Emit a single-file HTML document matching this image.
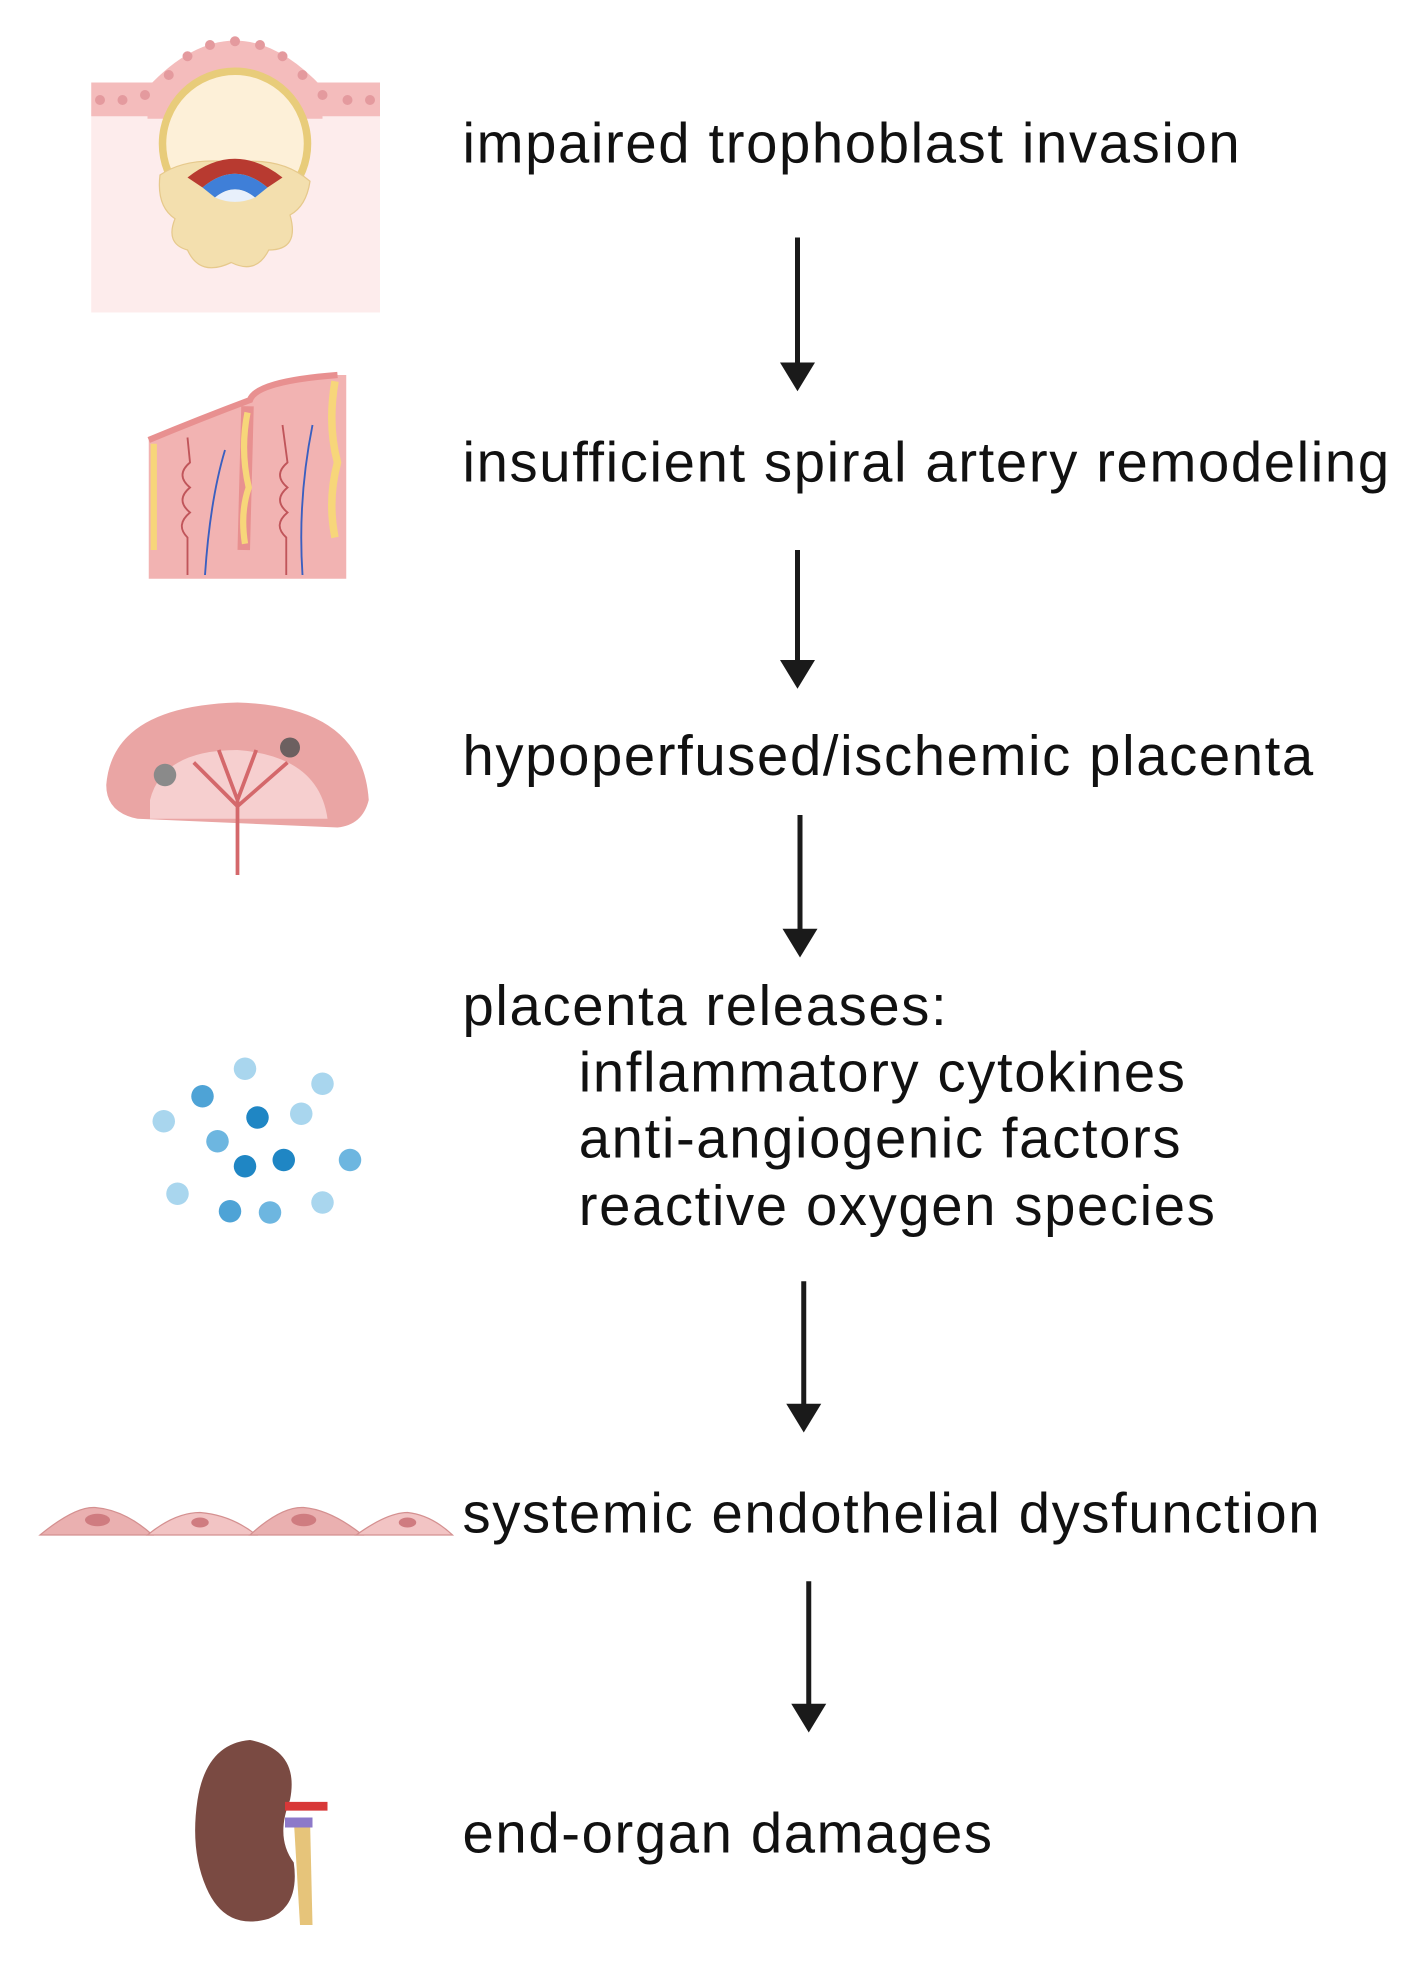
<!DOCTYPE html>
<html><head><meta charset="utf-8"><style>
html,body{margin:0;padding:0;background:#fff;}
svg{display:block;}
text{font-family:"Liberation Sans",sans-serif;font-size:45px;letter-spacing:1.3px;fill:#111;}
</style></head><body>
<svg width="1413" height="1964" viewBox="0 0 1130.4 1571.2" xmlns="http://www.w3.org/2000/svg">
<!-- illustration 1 -->
<rect x="73" y="88" width="231" height="162" fill="#fdecec"/>
<rect x="73" y="66" width="231" height="27" fill="#f4bcbc"/>
<path d="M118 70 Q188 -5 258 70 L258 95 L118 95 Z" fill="#f4bcbc"/>
<g fill="#e49a9e">
<circle cx="80" cy="80" r="4"/><circle cx="98" cy="80" r="4"/><circle cx="116" cy="76" r="4"/><circle cx="135" cy="60" r="4"/><circle cx="150" cy="45" r="4"/><circle cx="168" cy="36" r="4"/><circle cx="188" cy="33" r="4"/><circle cx="208" cy="36" r="4"/><circle cx="226" cy="45" r="4"/><circle cx="242" cy="60" r="4"/><circle cx="258" cy="76" r="4"/><circle cx="278" cy="80" r="4"/><circle cx="296" cy="80" r="4"/>
</g>
<circle cx="188" cy="115" r="58" fill="#fdf0d8" stroke="#e8cc7a" stroke-width="6"/>
<path d="M128 140 Q150 125 188 130 Q225 125 248 145 Q245 165 232 172 Q240 200 215 200 Q205 220 185 210 Q160 222 150 200 Q132 195 140 175 Q125 165 128 140 Z" fill="#f3dfae" stroke="#e6c98c" stroke-width="1"/>
<path d="M150 142 Q188 112 226 142 L214 150 Q188 128 162 150 Z" fill="#b83a30"/>
<path d="M162 150 Q188 128 214 150 L204 158 Q188 145 172 158 Z" fill="#3f7fd8"/>
<path d="M172 158 Q188 145 204 158 Q188 165 172 158Z" fill="#e8f0fb"/>
<!-- illustration 2 -->
<path d="M119 352 Q160 335 200 320 Q205 305 270 300 L277 300 L277 463 L119 463 Z" fill="#f2b3b2"/>
<path d="M119 352 Q160 335 200 320 Q205 305 270 300" fill="none" stroke="#e89090" stroke-width="5"/>
<path d="M198 325 L195 440" stroke="#e89090" stroke-width="10"/>
<path d="M198 330 Q192 360 199 390 Q192 410 196 435" stroke="#f7d67a" stroke-width="5" fill="none"/>
<path d="M123 355 L123 440" stroke="#f7d67a" stroke-width="5"/>
<path d="M268 305 Q262 340 270 370 Q262 400 268 430" stroke="#f7d67a" stroke-width="6" fill="none"/>
<path d="M150 460 L150 430 Q140 420 152 410 Q140 400 152 390 Q140 380 152 370 L150 350" stroke="#c0555a" stroke-width="1.5" fill="none"/>
<path d="M164 460 Q168 400 180 360" stroke="#3a5fc0" stroke-width="1.5" fill="none"/>
<path d="M229 460 L229 430 Q218 420 230 410 Q218 400 230 390 Q218 380 230 370 L226 340" stroke="#c0555a" stroke-width="1.5" fill="none"/>
<path d="M242 460 Q238 400 250 340" stroke="#3a5fc0" stroke-width="1.5" fill="none"/>
<!-- illustration 3 -->
<path d="M85 628 Q90 565 190 562 Q290 565 295 640 Q290 660 270 662 L110 655 Q85 650 85 628 Z" fill="#eaa5a4"/>
<path d="M120 640 Q130 600 190 600 Q255 605 262 655 L120 655 Z" fill="#f6cfcf"/>
<path d="M190 700 L190 640 M190 645 L155 610 M190 645 L230 610 M190 640 L175 600 M190 640 L205 600" stroke="#d4686b" stroke-width="3" fill="none"/>
<circle cx="132" cy="620" r="9" fill="#8a8a8a"/>
<circle cx="232" cy="598" r="8" fill="#6c6060"/>
<!-- dots -->
<g>
<circle cx="196" cy="855" r="9" fill="#a9d6ee"/><circle cx="258" cy="867" r="9" fill="#a9d6ee"/>
<circle cx="162" cy="877" r="9" fill="#4ea3d6"/><circle cx="131" cy="897" r="9" fill="#a9d6ee"/>
<circle cx="206" cy="894" r="9" fill="#1f86c4"/><circle cx="241" cy="891" r="9" fill="#a9d6ee"/>
<circle cx="174" cy="913" r="9" fill="#6db6e0"/><circle cx="227" cy="928" r="9" fill="#1f86c4"/>
<circle cx="196" cy="933" r="9" fill="#1f86c4"/><circle cx="280" cy="928" r="9" fill="#6db6e0"/>
<circle cx="142" cy="955" r="9" fill="#a9d6ee"/><circle cx="184" cy="969" r="9" fill="#4ea3d6"/>
<circle cx="216" cy="970" r="9" fill="#6db6e0"/><circle cx="258" cy="962" r="9" fill="#a9d6ee"/>
</g>
<!-- endothelial -->
<g fill="#eab0b0" stroke="#d49090" stroke-width="1">
<path d="M32 1228 Q60 1205 76 1206 Q100 1208 122 1228 Z"/>
<path d="M118 1228 Q140 1210 160 1210 Q185 1212 205 1228 Z" fill="#f2c4c4"/>
<path d="M200 1228 Q225 1205 243 1206 Q265 1208 290 1228 Z"/>
<path d="M285 1228 Q310 1210 326 1210 Q345 1212 362 1228 Z" fill="#f2c4c4"/>
</g>
<g fill="#cf7c80"><ellipse cx="78" cy="1216" rx="10" ry="5"/><ellipse cx="160" cy="1218" rx="7" ry="4"/><ellipse cx="243" cy="1216" rx="10" ry="5"/><ellipse cx="326" cy="1218" rx="7" ry="4"/></g>
<!-- kidney -->
<path d="M235 1455 L240 1540 L250 1540 L248 1455 Z" fill="#e6c47a"/>
<path d="M200 1392 Q165 1395 158 1440 Q152 1480 165 1510 Q180 1545 215 1535 Q240 1525 235 1490 Q220 1470 232 1440 Q240 1400 200 1392 Z" fill="#7a4a42"/>
<path d="M228 1445 L262 1445" stroke="#d83838" stroke-width="7"/>
<path d="M228 1458 L250 1458" stroke="#8d79c9" stroke-width="8"/>
<!-- text -->
<text x="370" y="130">impaired trophoblast invasion</text>
<text x="370" y="385">insufficient spiral artery remodeling</text>
<text x="370" y="620">hypoperfused/ischemic placenta</text>
<text x="370" y="820">placenta releases:</text>
<text x="463" y="873">inflammatory cytokines</text>
<text x="463" y="926">anti-angiogenic factors</text>
<text x="463" y="980">reactive oxygen species</text>
<text x="370" y="1226">systemic endothelial dysfunction</text>
<text x="370" y="1482">end-organ damages</text>
<!-- arrows -->
<g stroke="#1a1a1a" stroke-width="4" fill="#1a1a1a">
<line x1="638" y1="190" x2="638" y2="292"/><path d="M624 290 L652 290 L638 313 Z" stroke="none"/>
<line x1="638" y1="440" x2="638" y2="530"/><path d="M624 528 L652 528 L638 551 Z" stroke="none"/>
<line x1="640" y1="652" x2="640" y2="745"/><path d="M626 743 L654 743 L640 766 Z" stroke="none"/>
<line x1="643" y1="1025" x2="643" y2="1125"/><path d="M629 1123 L657 1123 L643 1146 Z" stroke="none"/>
<line x1="647" y1="1265" x2="647" y2="1365"/><path d="M633 1363 L661 1363 L647 1386 Z" stroke="none"/>
</g>
</svg>
</body></html>
